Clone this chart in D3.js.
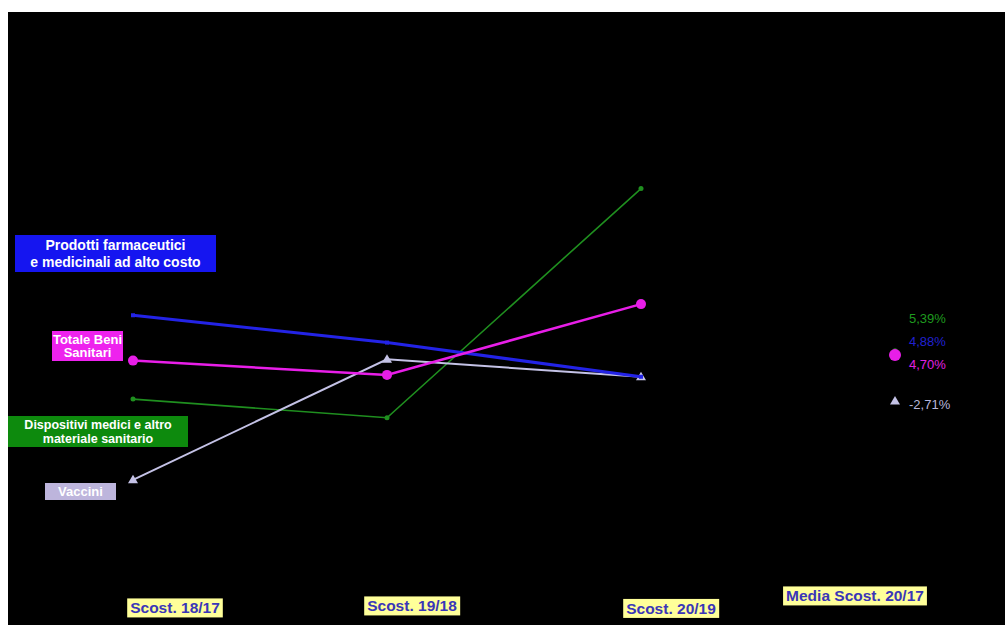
<!DOCTYPE html>
<html>
<head>
<meta charset="utf-8">
<script src="https://cdn.jsdelivr.net/npm/d3@7"></script>
<style>
  html, body { margin: 0; padding: 0; background: #fff; }
  svg { display: block; }
  text { font-family: "Liberation Sans", Arial, sans-serif; }
</style>
</head>
<body>
<svg id="chart" width="1007" height="625"></svg>
<script>
// Categories along the x axis
const categories = ["Scost. 18/17", "Scost. 19/18", "Scost. 20/19", "Media Scost. 20/17"];
const periods = categories.slice(0, 3);

// Year-on-year percentage changes per spending item
const seriesNames = ["Prodotti farmaceutici e medicinali ad alto costo", "Totale Beni Sanitari", "Dispositivi medici e altro materiale sanitario", "Vaccini"];
const farmaciValues = [11.1, 6.7, 1.2];
const totaleValues = [3.8, 1.5, 12.9];
const dispositiviValues = [-2.4, -5.4, 31.5];
const vacciniValues = [-15.4, 4.0, 1.2];

// Average change 2020/2017 per item
const mediaValues = [4.88, 4.70, 5.39, -2.71];
const mediaLabels = ["4,88%", "4,70%", "5,39%", "-2,71%"];

const svg = d3.select("#chart");

// black plotting panel
svg.append("rect").attr("x", 8).attr("y", 12).attr("width", 997).attr("height", 613).attr("fill", "#000");

const x = d3.scalePoint().domain(categories).range([133, 895]);
const y = d3.scaleLinear().domain([-30, 40]).range([570.5, 135.8]);

const series = [
  { name: seriesNames[0], values: farmaciValues, media: mediaValues[0], mediaLabel: mediaLabels[0],
    color: "#2323e6", width: 3, marker: "square", size: 4, textColor: "#2020d0",
    labelDy: -12, font: 14, lineGap: 17, box: { x: 15, y: 235, w: 201, h: 37, fill: "#1515f0" },
    lines: ["Prodotti farmaceutici", "e medicinali ad alto costo"] },
  { name: seriesNames[1], values: totaleValues, media: mediaValues[1], mediaLabel: mediaLabels[1],
    color: "#e81ee8", width: 2.5, marker: "circle", size: 5, mediaSize: 6, textColor: "#e020e0",
    labelDy: 9, font: 13, lineGap: 13, box: { x: 52, y: 331, w: 71, h: 30, fill: "#ee22ee" },
    lines: ["Totale Beni", "Sanitari"] },
  { name: seriesNames[2], values: dispositiviValues, media: mediaValues[2], mediaLabel: mediaLabels[2],
    color: "#1f8f1f", width: 1.6, marker: "circle", size: 2.5, textColor: "#1f9a1f",
    labelDy: -32, font: 12.5, lineGap: 14, box: { x: 8, y: 416, w: 180, h: 31, fill: "#0d8a0d" },
    lines: ["Dispositivi medici e altro", "materiale sanitario"] },
  { name: seriesNames[3], values: vacciniValues, media: mediaValues[3], mediaLabel: mediaLabels[3],
    color: "#c4c2e6", width: 2, marker: "triangle", size: 5, textColor: "#b8b6dc",
    labelDy: 3, font: 13, lineGap: 13, box: { x: 45, y: 483, w: 71, h: 17, fill: "#bdb5dc" },
    lines: ["Vaccini"] }
];

// drawing order of the lines
const drawOrder = [2, 3, 0, 1];

const line = d3.line().x(d => x(d.cat)).y(d => y(d.v));

function drawMarker(g, cx, cy, s, size) {
  if (s.marker === "circle") {
    g.append("circle").attr("cx", cx).attr("cy", cy).attr("r", size).attr("fill", s.color);
  } else if (s.marker === "square") {
    g.append("rect").attr("x", cx - size / 2).attr("y", cy - size / 2).attr("width", size).attr("height", size).attr("fill", s.color);
  } else {
    const h = size * 1.7;
    g.append("path")
      .attr("d", `M${cx},${cy - h * 0.6}L${cx + size},${cy + h * 0.4}L${cx - size},${cy + h * 0.4}Z`)
      .attr("fill", s.color);
  }
}

const plot = svg.append("g");
drawOrder.forEach(i => {
  const s = series[i];
  const pts = s.values.map((v, j) => ({ cat: periods[j], v }));
  plot.append("path").datum(pts)
    .attr("d", line)
    .attr("fill", "none")
    .attr("stroke", s.color)
    .attr("stroke-width", s.width);
  pts.forEach(p => drawMarker(plot, x(p.cat), y(p.v), s, s.size));
});

// average markers and value labels
const mediaX = x(categories[3]);
[2, 0, 3, 1].forEach(i => {
  const s = series[i];
  drawMarker(plot, mediaX, y(s.media), s, s.mediaSize || s.size);
});
series.forEach(s => {
  svg.append("text")
    .attr("x", mediaX + 14)
    .attr("y", y(s.media) + s.labelDy)
    .attr("dy", "0.35em")
    .attr("font-size", 13)
    .attr("fill", s.textColor)
    .text(s.mediaLabel);
});

// series name boxes on the left
series.forEach(s => {
  const b = s.box;
  svg.append("rect").attr("x", b.x).attr("y", b.y).attr("width", b.w).attr("height", b.h).attr("fill", b.fill);
  const t = svg.append("text")
    .attr("x", b.x + b.w / 2)
    .attr("text-anchor", "middle")
    .attr("font-size", s.font)
    .attr("font-weight", "bold")
    .attr("fill", "#fff");
  const n = s.lines.length;
  s.lines.forEach((ln, k) => {
    t.append("tspan")
      .attr("x", b.x + b.w / 2)
      .attr("y", b.y + b.h / 2 + (k - (n - 1) / 2) * s.lineGap)
      .attr("dy", "0.35em")
      .text(ln);
  });
});

// category labels in yellow boxes
const catOffsets = [42, 25, 30, -40];
const catY = [608, 606, 608.5, 596];
categories.forEach((c, i) => {
  const g = svg.append("g");
  const t = g.append("text")
    .attr("x", x(c) + catOffsets[i])
    .attr("y", catY[i])
    .attr("dy", "0.35em")
    .attr("text-anchor", "middle")
    .attr("font-size", 15.5)
    .attr("font-weight", "bold")
    .attr("fill", "#3a36b8")
    .text(c);
  const bb = t.node().getBBox();
  g.insert("rect", "text")
    .attr("x", bb.x - 3).attr("y", bb.y - 1)
    .attr("width", bb.width + 6).attr("height", bb.height + 2)
    .attr("fill", "#ffff99");
});
</script>
</body>
</html>
